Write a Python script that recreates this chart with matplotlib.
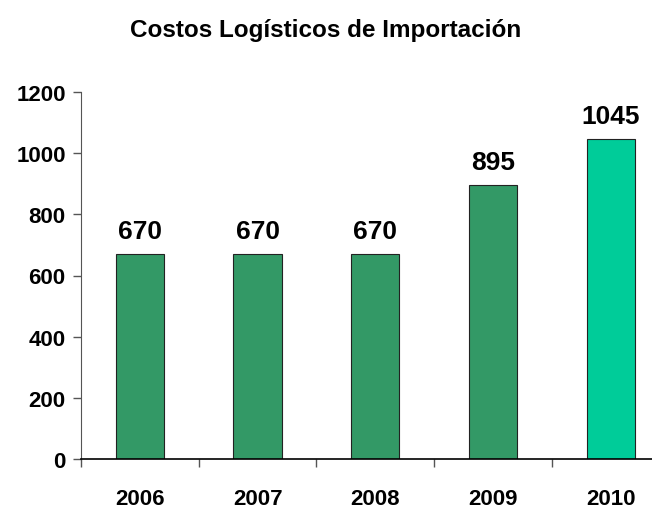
import matplotlib.pyplot as plt

years = ['2006', '2007', '2008', '2009', '2010']
costs = [670, 670, 670, 895, 1045]
bar_colors = ['#339966', '#339966', '#339966', '#339966', '#00CC99']

plt.rcParams['font.family'] = ['Liberation Sans', 'DejaVu Sans']
plt.rcParams['font.weight'] = 'bold'

fig = plt.figure(figsize=(6.52, 5.10), dpi=100)
ax = fig.add_axes([81 / 652, 50 / 510, 1 - 81 / 652, 367 / 510])

x = range(len(years))
ax.bar(x, costs, width=0.41, color=bar_colors, edgecolor='#222222', linewidth=0.8, zorder=2)
for xi, v in zip(x, costs):
    ax.annotate(str(v), (xi, v), xytext=(0, 8), textcoords='offset points',
                ha='center', va='bottom', fontsize=19, fontweight='bold')

ax.set_yticks(range(0, 1201, 200))
ax.tick_params(axis='y', labelsize=16, length=6, width=1, color='#555555', pad=5)

# category labels between boundary ticks
ax.set_xticks([i - 0.5 for i in range(len(years) + 1)])
ax.set_xticklabels([])
ax.set_xticks(list(x), minor=True)
ax.set_xticklabels(years, minor=True, fontsize=16, fontweight='bold')
ax.tick_params(axis='x', which='major', length=6, width=1, color='#555555')
ax.tick_params(axis='x', which='minor', length=0, pad=21)

# limits after ticks, set_xticks would widen them
ax.set_xlim(-0.5, 4.35)
ax.set_ylim(0, 1200)

for lbl in ax.get_yticklabels():
    lbl.set_fontweight('bold')

ax.spines['top'].set_visible(False)
ax.spines['right'].set_visible(False)
ax.spines['left'].set_color('#555555')
ax.spines['bottom'].set_color('black')
ax.spines['bottom'].set_linewidth(1.2)

fig.text(0.5, 0.941, 'Costos Logísticos de Importación', ha='center', va='center',
         fontsize=17.5, fontweight='bold')

fig.savefig('out.png', dpi=100)
